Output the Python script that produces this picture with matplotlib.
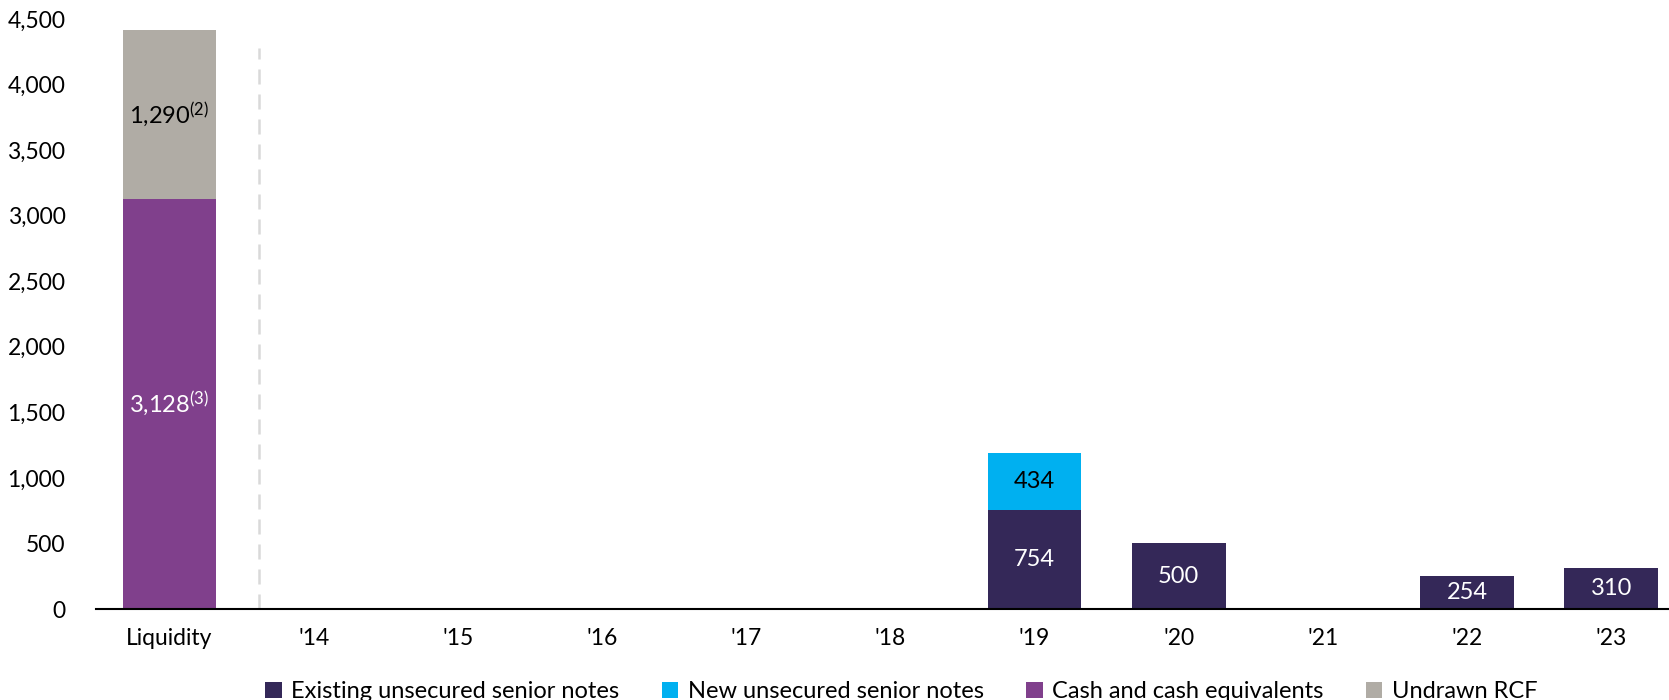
import matplotlib
matplotlib.use("Agg")
import matplotlib.pyplot as plt
import numpy as np
from matplotlib.patches import Patch

CATEGORIES = ["Liquidity", "'14", "'15", "'16", "'17", "'18", "'19", "'20", "'21", "'22", "'23"]
EXISTING_NOTES = [0, 0, 0, 0, 0, 0, 754, 500, 0, 254, 310]
NEW_NOTES = [0, 0, 0, 0, 0, 0, 434, 0, 0, 0, 0]
CASH = [3128, 0, 0, 0, 0, 0, 0, 0, 0, 0, 0]
UNDRAWN_RCF = [1290, 0, 0, 0, 0, 0, 0, 0, 0, 0, 0]

SERIES = ["Existing unsecured senior notes", "New unsecured senior notes",
          "Cash and cash equivalents", "Undrawn RCF"]
COLORS = ["#342858", "#00B0F0", "#80408C", "#B0ACA5"]
FOOTNOTES = {"Cash and cash equivalents": "(3)", "Undrawn RCF": "(2)"}
DARK_TEXT = {"New unsecured senior notes", "Undrawn RCF"}

plt.rcParams.update({
    "font.family": ["Lato", "DejaVu Sans"],
    "mathtext.fontset": "custom",
    "mathtext.rm": "Lato",
    "mathtext.it": "Lato",
})

fig = plt.figure(figsize=(16.69, 7.0), dpi=100)
ax = fig.add_axes([0.0575, 0.13, 0.9425, 0.843])

x = np.arange(len(CATEGORIES))
width = 0.65
bottom = np.zeros(len(CATEGORIES))
for name, vals, color in zip(SERIES, [EXISTING_NOTES, NEW_NOTES, CASH, UNDRAWN_RCF], COLORS):
    vals = np.array(vals, dtype=float)
    ax.bar(x, vals, width, bottom=bottom, color=color, edgecolor="none", zorder=3)
    for xi, v, b in zip(x, vals, bottom):
        if v <= 0:
            continue
        txt = f"{int(v):,}"
        if name in FOOTNOTES:
            txt += r"$^{\mathrm{" + FOOTNOTES[name] + "}}$"
        ax.text(xi, b + v / 2, txt, ha="center", va="center", fontsize=17,
                color="black" if name in DARK_TEXT else "white", zorder=4)
    bottom += vals

# divider between liquidity and maturities
ax.axvline(0.62, ymin=0, ymax=0.95, color="#d9d9d9", linestyle=(0, (6, 4)), linewidth=1.8)

ax.set_xlim(-0.51, 10.4)
ax.set_ylim(0, 4500)
ax.set_yticks(np.arange(0, 4501, 500))
ax.set_yticklabels([f"{int(v):,}" for v in np.arange(0, 4501, 500)], fontsize=16.5)
ax.set_xticks(x)
ax.set_xticklabels(CATEGORIES, fontsize=16.5)
ax.tick_params(axis="both", length=0, pad=14)
ax.tick_params(axis="y", pad=22)
for side in ["left", "right", "top"]:
    ax.spines[side].set_visible(False)
ax.spines["bottom"].set_linewidth(1.5)
ax.spines["bottom"].set_zorder(5)

handles = [Patch(facecolor=c, edgecolor="none") for c in COLORS]
fig.legend(handles, SERIES, loc="center", bbox_to_anchor=(0.540, 0.012), ncol=4,
           frameon=False, fontsize=17, handlelength=0.7, handleheight=0.7,
           handletextpad=0.4, columnspacing=1.8)

fig.savefig("out.png", dpi=100)
